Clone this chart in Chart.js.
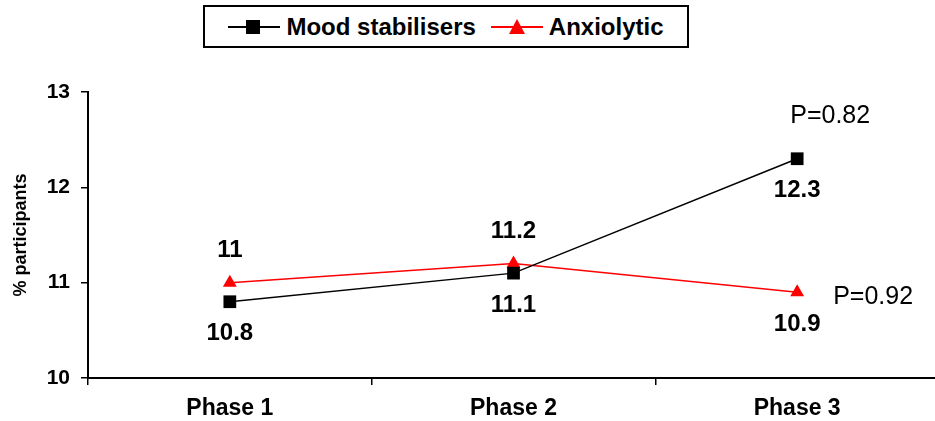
<!DOCTYPE html>
<html>
<head>
<meta charset="utf-8">
<script src="https://cdn.jsdelivr.net/npm/chart.js@4.4.0/dist/chart.umd.min.js"></script>
<style>
  body { margin: 0; background: #fff; font-family: Arial, "Liberation Sans", sans-serif; }
  #wrap { position: relative; width: 935px; height: 421px; overflow: hidden; }
  #legend {
    position: absolute; left: 203px; top: 5px; width: 486px; height: 43px;
    border: 2px solid #000; box-sizing: border-box; display: flex; align-items: center;
    justify-content: center; font-weight: bold; font-size: 24px; background: #fff; z-index: 2;
  }
  .item { display: flex; align-items: center; margin: 0 3px; }
  .sym { position: relative; width: 52px; height: 16px; margin-right: 6px; }
  .sym .ln { position: absolute; left: 0; right: 0; top: 7px; height: 2px; }
  .sym .sq { position: absolute; left: 18px; top: 1px; width: 14px; height: 14px; background: #000; }
  .sym .tri { position: absolute; left: 18px; top: 0; width: 0; height: 0;
    border-left: 8px solid transparent; border-right: 8px solid transparent; border-bottom: 15px solid #f00; }
  canvas { position: absolute; left: 0; top: 0; }
</style>
</head>
<body>
<div id="wrap">
  <div id="legend">
    <div class="item"><div class="sym"><div class="ln" style="background:#000"></div><div class="sq"></div></div>Mood stabilisers</div>
    <div class="item" style="margin-left:12px"><div class="sym"><div class="ln" style="background:#f00"></div><div class="tri"></div></div>Anxiolytic</div>
  </div>
  <canvas id="chart" width="948" height="421"></canvas>
</div>
<script>
const categories = ['Phase 1', 'Phase 2', 'Phase 3'];
const moodValues = [10.8, 11.1, 12.3];
const anxiolyticValues = [11, 11.2, 10.9];
const moodLabelPos = ['below', 'below', 'below'];
const anxiolyticLabelPos = ['above', 'above', 'below'];
const yTicks = [10, 11, 12, 13];
const pMood = 'P=0.82';
const pAnxiolytic = 'P=0.92';

// draws value labels and p-values next to points
const labelPlugin = {
  id: 'labels',
  afterDatasetsDraw(chart) {
    const ctx = chart.ctx;
    ctx.save();
    ctx.fillStyle = '#000';
    ctx.textAlign = 'center';
    ctx.textBaseline = 'middle';
    ctx.font = 'bold 24px Arial, "Liberation Sans"';
    chart.data.datasets.forEach((ds, i) => {
      const meta = chart.getDatasetMeta(i);
      meta.data.forEach((pt, j) => {
        const off = ds.labelPos[j] === 'above' ? -32 : 32;
        ctx.fillText(String(ds.data[j]), pt.x, pt.y + off);
      });
    });
    ctx.font = '25px Arial, "Liberation Sans"';
    const m = chart.getDatasetMeta(0).data[2];
    ctx.fillText(pMood, m.x + 33, m.y - 43);
    const a = chart.getDatasetMeta(1).data[2];
    ctx.textAlign = 'left';
    ctx.fillText(pAnxiolytic, a.x + 36, a.y + 5);
    ctx.restore();
  }
};

new Chart(document.getElementById('chart'), {
  type: 'line',
  data: {
    labels: categories,
    datasets: [
      {
        label: 'Mood stabilisers', data: moodValues, labelPos: moodLabelPos,
        borderColor: '#000', backgroundColor: '#000', borderWidth: 1.5,
        pointStyle: 'rect', pointRadius: 9, pointBorderWidth: 0, tension: 0
      },
      {
        label: 'Anxiolytic', data: anxiolyticValues, labelPos: anxiolyticLabelPos,
        borderColor: '#f00', backgroundColor: '#f00', borderWidth: 1.5,
        pointStyle: 'triangle', pointRadius: 8, pointBorderWidth: 0, tension: 0
      }
    ]
  },
  options: {
    responsive: false,
    animation: false,
    layout: { padding: { top: 92, right: 0, left: 0, bottom: 0 } },
    plugins: { legend: { display: false }, tooltip: { enabled: false } },
    scales: {
      x: {
        offset: true,
        grid: { display: true, drawOnChartArea: false, offset: true, color: '#000', tickLength: 7, lineWidth: 1.5 },
        border: { color: '#000', width: 2 },
        ticks: { color: '#000', font: { family: 'Arial', weight: 'bold', size: 23 }, padding: 10 },
        afterFit(s) { s.height = 43; }
      },
      y: {
        min: 10, max: 13,
        afterBuildTicks(s) { s.ticks = yTicks.map(v => ({ value: v })); },
        grid: { display: true, drawOnChartArea: false, color: '#000', tickLength: 7, lineWidth: 1.5 },
        border: { color: '#000', width: 2 },
        ticks: { color: '#000', font: { family: 'Arial', weight: 'bold', size: 21 }, padding: 11 },
        title: { display: true, text: '% participants', color: '#000', font: { family: 'Arial', weight: 'bold', size: 18 }, padding: { top: 10, bottom: 10 } },
        afterFit(s) { s.width = 88; }
      }
    }
  },
  plugins: [labelPlugin]
});
</script>
</body>
</html>
